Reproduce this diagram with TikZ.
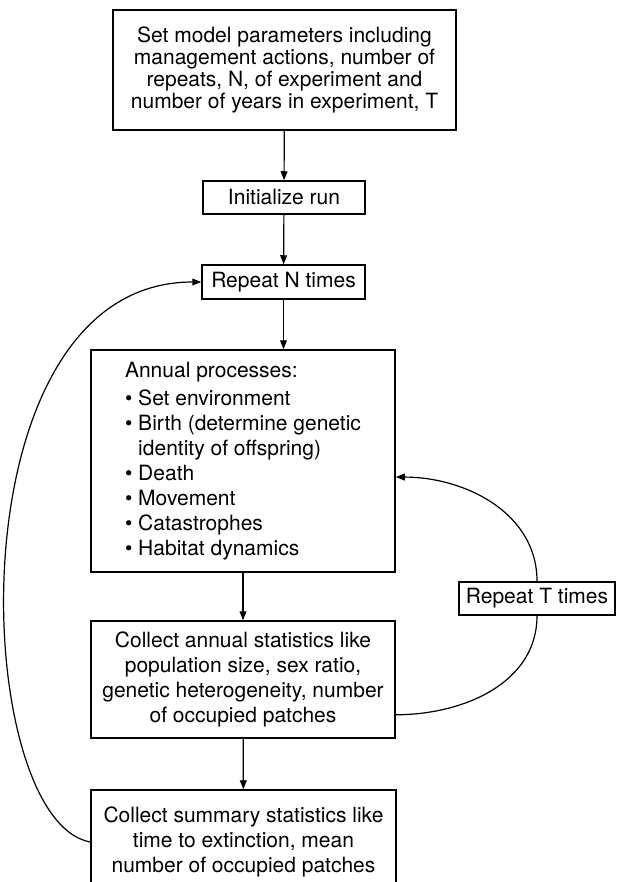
\documentclass[tikz,border=0pt]{standalone}
\usepackage{fontspec}
\setmainfont{TeX Gyre Heros}
\usetikzlibrary{arrows.meta}

\begin{document}
\begin{tikzpicture}[x=0.5pt, y=0.5pt,
        box/.style={draw, line width=0.75pt, align=center, inner sep=0pt,
            font=\fontsize{10.5}{12.5}\selectfont},
        flow/.style={line width=0.6pt, -{Triangle[length=4.5pt, width=3.4pt]}}]
        \useasboundingbox (0,0) rectangle (616,-882);

        \node[box, minimum width=171.5pt, minimum height=60pt,
            font=\fontsize{10.5}{11}\selectfont] (setup) at (284.5,-70)
            {Set model parameters including\\ management actions, number of\\
             repeats, N, of experiment and\\ number of years in experiment, T};
        \node[box, minimum width=81pt, minimum height=16.5pt] (init) at (284,-197.5) {Initialize run};
        \node[box, minimum width=81.5pt, minimum height=17pt] (repN) at (283.5,-282) {Repeat N times};
        \node[box, align=left, minimum width=152pt, minimum height=111pt] (annual) at (243,-461)
            {Annual processes:\\[1.5pt]
             \textbullet\ Set environment\\
             \textbullet\ Birth (determine genetic\\
             \phantom{\textbullet\ }identity of offspring)\\
             \textbullet\ Death\\
             \textbullet\ Movement\\
             \textbullet\ Catastrophes\\
             \textbullet\ Habitat dynamics};
        \node[box, minimum width=152pt, minimum height=58.5pt] (coll) at (243,-679.5)
            {Collect annual statistics like\\ population size, sex ratio,\\
             genetic heterogeneity, number\\ of occupied patches};
        \node[box, minimum width=152.5pt, minimum height=52pt] (summ) at (243.5,-842)
            {Collect summary statistics like\\ time to extinction, mean\\ number of occupied patches};
        \node[box, fill=white, minimum width=78pt, minimum height=16.5pt] (repT) at (537,-598.5) {Repeat T times};

        \draw[flow] (setup) -- (init);
        \draw[flow] (init) -- (repN);
        \draw[flow] (repN.south) -- (repN.south |- annual.north);
        \draw[flow] (annual) -- (coll);
        \draw[flow] (coll) -- (summ);
        % outer loop, N repeats
        \draw[flow] (summ.west) .. controls (-30,-820) and (-50,-282) .. (repN.west);
        % inner loop, T years
        \draw[line width=0.6pt] (coll.-13) to[out=0, in=-90] (repT.south);
        \draw[flow] (repT.north) to[out=90, in=0] (annual.-6);

\end{tikzpicture}
\end{document}
